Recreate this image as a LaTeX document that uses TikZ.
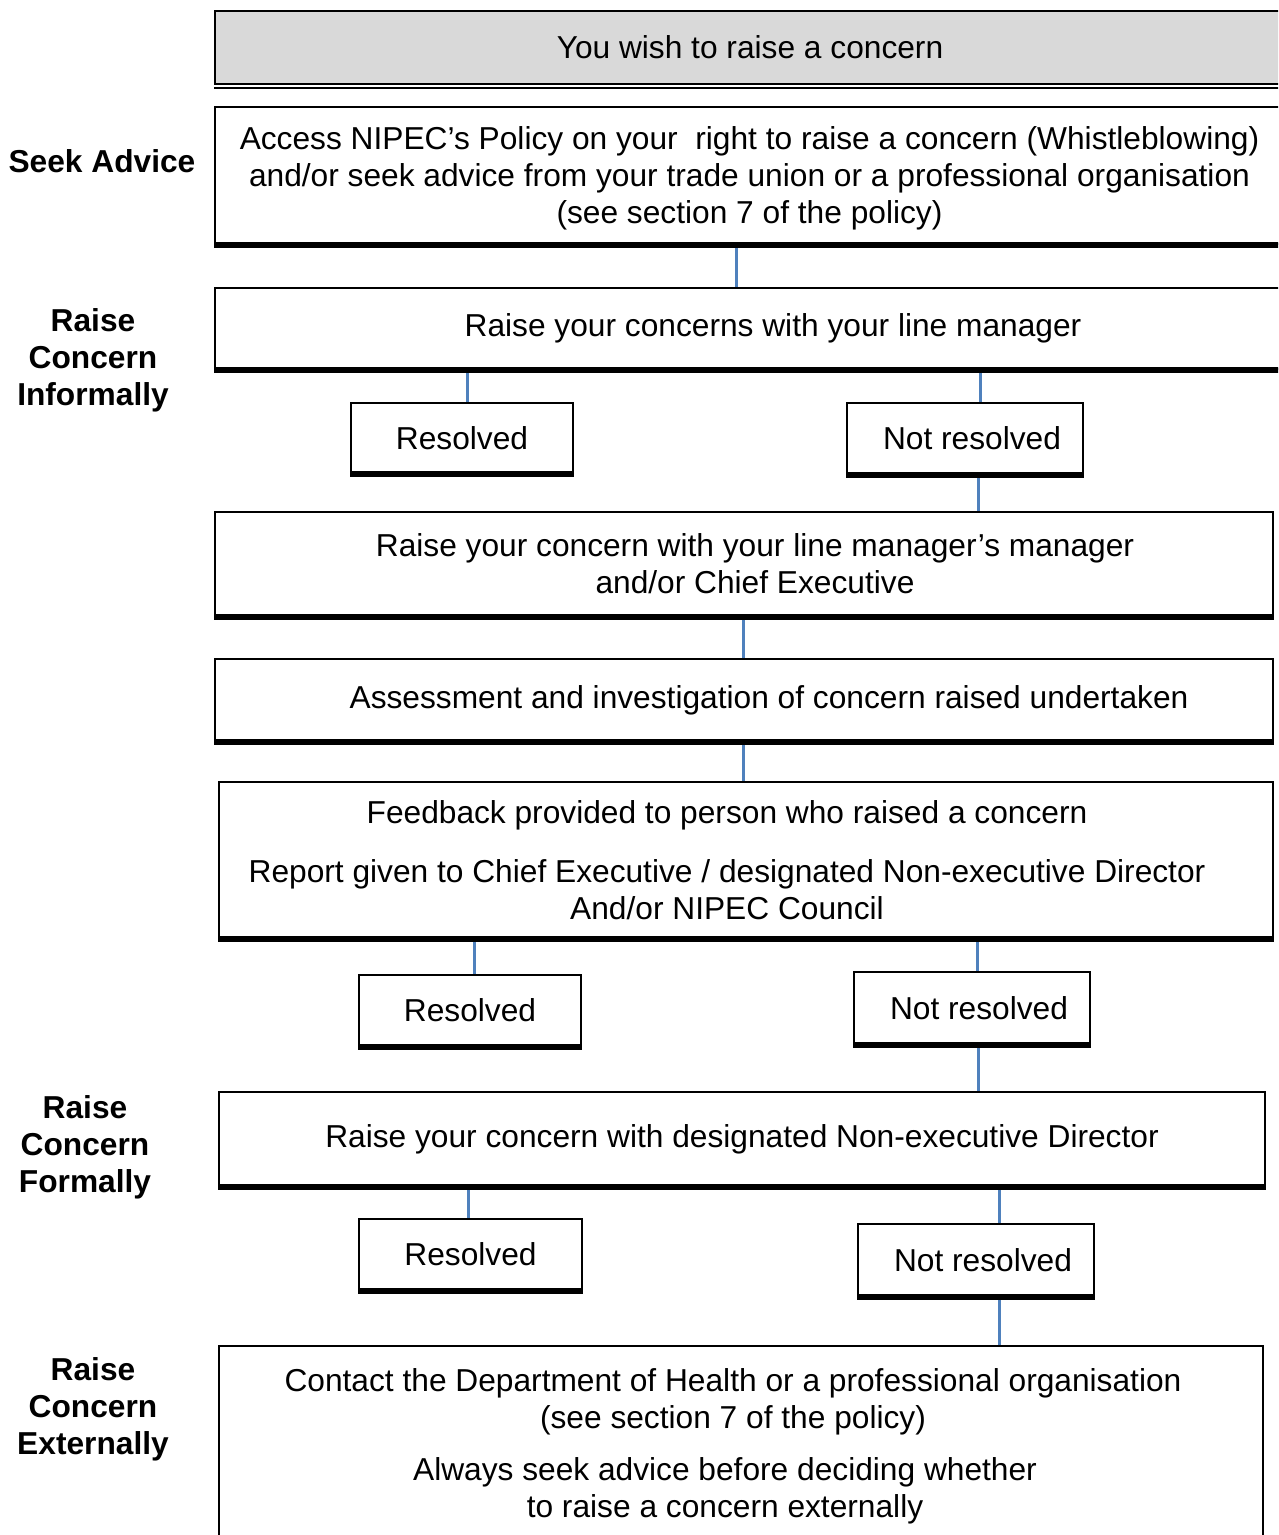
\documentclass[tikz,border=0pt]{standalone}
\usepackage{fontspec}
\setmainfont{Liberation Sans}
\usetikzlibrary{positioning, calc}
\definecolor{linkblue}{RGB}{79,129,189}
\definecolor{headgray}{RGB}{217,217,217}

\tikzset{
  flowbox/.style={draw, line width=2pt, fill=white, align=center, inner sep=0pt, font=\fontsize{31.7}{37}\selectfont},
  sidelabel/.style={align=center, font=\fontsize{31.7}{37}\selectfont\bfseries},
  link/.style={draw=linkblue, line width=3pt},
}

\begin{document}
\begin{tikzpicture}[x=1pt, y=-1pt]
  \useasboundingbox (0,0) rectangle (1278,1535);
  \clip (0,0) rectangle (1278,1535);

  % stage labels
  \node[sidelabel] (lblAdvice) at (102,161) {Seek Advice};
  \node[sidelabel] (lblInformal) at (93,360) {Raise\\Concern\\Informally};
  \node[sidelabel] (lblFormal) at (85,1147) {Raise\\Concern\\Formally};
  \node[sidelabel] (lblExternal) at (93,1409) {Raise\\Concern\\Externally};

  % main column
  \node[flowbox, fill=headgray, minimum width=1070, minimum height=73] (top) at (750,47.5) {You wish to raise a concern};
  \node[flowbox, minimum width=1069, minimum height=137] (advice) at (749.5,175.5)
    {\rule{0pt}{29pt}Access NIPEC’s Policy on your~ right to raise a concern (Whistleblowing)\\and/or seek advice from your trade union or a professional organisation\\(see section 7 of the policy)};
  \node[flowbox, minimum width=1069, minimum height=81] (informal) at (749.5,328.5)
    {\hspace*{47pt}Raise your concerns with your line manager};
  \node[flowbox, minimum width=222, minimum height=70] (resolvedA) at (462,438) {Resolved};
  \node[flowbox, minimum width=236, minimum height=71] (notresolvedA) at (965,438.5) {\hspace*{14pt}Not resolved};
  \node[flowbox, minimum width=1058, minimum height=104] (escalate) at (744,564)
    {\hspace*{22pt}Raise your concern with your line manager’s manager\\\hspace*{22pt}and/or Chief Executive};
  \node[flowbox, minimum width=1058, minimum height=82] (assess) at (744,700)
    {\hspace*{50pt}Assessment and investigation of concern raised undertaken};
  \node[flowbox, minimum width=1054, minimum height=156] (feedback) at (746,860)
    {\begin{tabular}{@{}c@{}}
      \rule{0pt}{34pt}Feedback provided to person who raised a concern\hspace*{38pt}\\[22pt]
      Report given to Chief Executive / designated Non-executive Director\hspace*{38pt}\\
      And/or NIPEC Council\hspace*{38pt}
    \end{tabular}};
  \node[flowbox, minimum width=222, minimum height=71] (resolvedB) at (470,1010.5) {Resolved};
  \node[flowbox, minimum width=236, minimum height=72] (notresolvedB) at (972,1008) {\hspace*{14pt}Not resolved};
  \node[flowbox, minimum width=1046, minimum height=94] (director) at (742,1139)
    {Raise your concern with designated Non-executive Director};
  \node[flowbox, minimum width=223, minimum height=71] (resolvedC) at (470.5,1254.5) {Resolved};
  \node[flowbox, minimum width=236, minimum height=72] (notresolvedC) at (976,1260) {\hspace*{14pt}Not resolved};
  \node[flowbox, minimum width=1044, minimum height=202] (external) at (741,1447)
    {\begin{tabular}{@{}c@{}}
      Contact the Department of Health or a professional organisation\hspace*{16pt}\\
      (see section 7 of the policy)\hspace*{16pt}\\[15pt]
      Always seek advice before deciding whether\hspace*{32pt}\\
      to raise a concern externally\hspace*{32pt}
    \end{tabular}};

  % connectors, x taken from the upper box
  \foreach \a/\b/\d in {advice/informal/-13.5, notresolvedA/escalate/13, escalate/assess/-1,
      assess/feedback/-1, notresolvedB/director/6, notresolvedC/external/23}
    \draw[link] ($(\a.south)+(\d,0)$) -- ($(\a.south |- \b.north)+(\d,0)$);
  % connectors, x taken from the lower box
  \foreach \a/\b/\d in {informal/resolvedA/5, informal/notresolvedA/15, feedback/resolvedB/4,
      feedback/notresolvedB/5, director/resolvedC/-2, director/notresolvedC/23}
    \draw[link] ($(\b.north |- \a.south)+(\d,0)$) -- ($(\b.north)+(\d,0)$);

  % heavy bottom edges
  \foreach \n in {advice, informal, resolvedA, notresolvedA, escalate, assess,
      feedback, resolvedB, notresolvedB, director, resolvedC, notresolvedC}
    \draw[line width=6pt] (\n.south west) -- (\n.south east);
  \draw[line width=2pt] ($(top.south west)+(0,3)$) -- ($(top.south east)+(0,3)$);
\end{tikzpicture}
\end{document}
